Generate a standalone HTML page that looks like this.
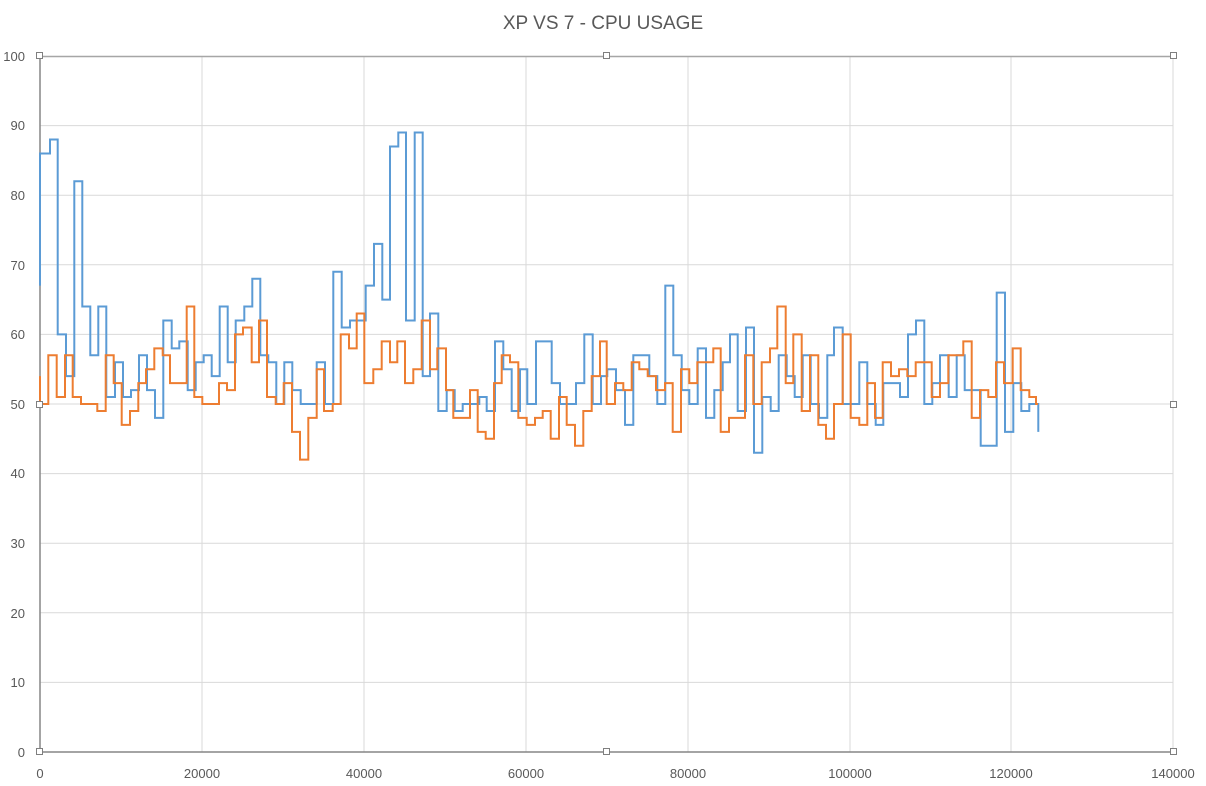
<!DOCTYPE html>
<html><head><meta charset="utf-8"><style>
body{margin:0;background:#fff;}
svg{display:block;font-family:"Liberation Sans",sans-serif;}
</style></head><body>
<svg width="1206" height="786" viewBox="0 0 1206 786" xmlns="http://www.w3.org/2000/svg">
<rect width="1206" height="786" fill="#fff"/>
<text x="603" y="29" text-anchor="middle" font-size="19" fill="#595959">XP VS 7 - CPU USAGE</text>
<g stroke="#d9d9d9" stroke-width="1">
<line x1="40" x2="1173" y1="125.6" y2="125.6"/><line x1="40" x2="1173" y1="195.2" y2="195.2"/>
<line x1="40" x2="1173" y1="264.8" y2="264.8"/><line x1="40" x2="1173" y1="334.4" y2="334.4"/>
<line x1="40" x2="1173" y1="404" y2="404"/><line x1="40" x2="1173" y1="473.6" y2="473.6"/>
<line x1="40" x2="1173" y1="543.2" y2="543.2"/><line x1="40" x2="1173" y1="612.8" y2="612.8"/>
<line x1="40" x2="1173" y1="682.4" y2="682.4"/>
<line x1="202" x2="202" y1="56" y2="752"/><line x1="364" x2="364" y1="56" y2="752"/>
<line x1="526" x2="526" y1="56" y2="752"/><line x1="688" x2="688" y1="56" y2="752"/>
<line x1="850" x2="850" y1="56" y2="752"/><line x1="1011" x2="1011" y1="56" y2="752"/>
<line x1="1173" x2="1173" y1="56" y2="752"/>
</g>
<line x1="40" x2="1173" y1="56.5" y2="56.5" stroke="#a6a6a6" stroke-width="1.5"/>
<line x1="40" x2="1173" y1="752" y2="752" stroke="#868686" stroke-width="1.5"/>
<line x1="40" x2="40" y1="56" y2="752" stroke="#868686" stroke-width="1.5"/>
<g font-size="13" fill="#595959" text-anchor="end">
<text x="25" y="61">100</text><text x="25" y="130">90</text><text x="25" y="200">80</text>
<text x="25" y="270">70</text><text x="25" y="339">60</text><text x="25" y="409">50</text>
<text x="25" y="478">40</text><text x="25" y="548">30</text><text x="25" y="618">20</text>
<text x="25" y="687">10</text><text x="25" y="757">0</text>
</g>
<g font-size="13" fill="#595959" text-anchor="middle">
<text x="40" y="778">0</text><text x="202" y="778">20000</text><text x="364" y="778">40000</text>
<text x="526" y="778">60000</text><text x="688" y="778">80000</text><text x="850" y="778">100000</text>
<text x="1011" y="778">120000</text><text x="1173" y="778">140000</text>
</g>
<g transform="translate(0,752) scale(1,-6.96)" fill="none" stroke-width="2" stroke-linejoin="miter">
<path vector-effect="non-scaling-stroke" stroke="#5b9bd5" d="M40,67 V86 H50 V88 H57.7 V60 H66 V54 H74.3 V82 H82.3 V64 H90.3 V57 H98.3 V64 H106.3 V51 H115 V56 H123 V51 H131 V52 H139 V57 H147 V52 H155 V48 H163.3 V62 H171.7 V58 H179.3 V59 H187.7 V52 H195.7 V56 H203.7 V57 H211.7 V54 H219.7 V64 H227.7 V56 H235.7 V62 H244.3 V64 H252.3 V68 H260.3 V57 H268.3 V56 H276.3 V50 H284.3 V56 H292.3 V52 H300.7 V50 H316.7 V56 H325 V50 H333.3 V69 H341.7 V61 H350 V62 H365.7 V67 H374 V73 H382.3 V65 H390 V87 H398.3 V89 H406 V62 H414.7 V89 H422.7 V54 H430 V63 H438.3 V49 H446.7 V52 H454.7 V49 H462.7 V50 H479.3 V51 H486.7 V49 H495 V59 H503.3 V55 H511.7 V49 H520 V55 H527.3 V50 H536 V59 H551.7 V53 H560 V50 H576 V53 H584.3 V60 H592.7 V50 H601 V54 H607.3 V55 H616 V52 H625 V47 H633.3 V57 H649.3 V54 H657.3 V50 H665.3 V67 H673.3 V57 H681.7 V52 H689.3 V50 H697.7 V58 H706 V48 H714.3 V52 H722.7 V56 H730 V60 H737.7 V49 H746 V61 H754 V43 H762.3 V51 H770.7 V49 H778.7 V57 H786.7 V54 H794.7 V51 H802.7 V57 H810.7 V50 H819 V48 H827.3 V57 H834 V61 H842.7 V50 H859.3 V56 H867.3 V50 H875.7 V47 H883.3 V53 H900 V51 H908 V60 H916 V62 H924.3 V50 H932.3 V53 H940 V57 H948.7 V51 H956.7 V57 H964.7 V52 H980.7 V44 H996.7 V66 H1005 V46 H1013.3 V53 H1021.3 V49 H1029.3 V50 H1038.3 V46"/>
<path vector-effect="non-scaling-stroke" stroke="#ed7d31" d="M40,54 V50 H48.3 V57 H56.7 V51 H65 V57 H72.7 V51 H81 V50 H97.3 V49 H105.7 V57 H113.7 V53 H121.7 V47 H130 V49 H138.3 V53 H146 V55 H154.3 V58 H162.7 V57 H170 V53 H186.7 V64 H194.3 V51 H202.3 V50 H219 V53 H227 V52 H235 V60 H243 V61 H251.7 V56 H259 V62 H267 V51 H275.7 V50 H283.7 V53 H292 V46 H300 V42 H308.3 V48 H316.7 V55 H324 V49 H332.7 V50 H340.7 V60 H349 V58 H356.7 V63 H364.3 V53 H373.3 V55 H381.7 V59 H390 V56 H397.3 V59 H405 V53 H413.3 V55 H421.7 V62 H430 V55 H437.3 V58 H446 V52 H453.3 V48 H470 V52 H477.7 V46 H485.7 V45 H494 V53 H501.7 V57 H510 V56 H518.3 V48 H526.7 V47 H535 V48 H542.7 V49 H550.7 V45 H559 V51 H566.7 V47 H575 V44 H583.3 V49 H591.7 V54 H600 V59 H606.7 V50 H615 V53 H623.3 V52 H631.7 V56 H639.3 V55 H647.7 V54 H656 V52 H665 V53 H672.7 V46 H681 V55 H689.3 V53 H697.3 V56 H713.3 V58 H720.7 V46 H729 V48 H745 V57 H753.3 V50 H761.7 V56 H770 V58 H777.3 V64 H785.7 V53 H793.3 V60 H801.7 V49 H810 V57 H818.3 V47 H826 V45 H834 V50 H842.7 V60 H850.7 V48 H859.3 V47 H867.3 V53 H875 V48 H882.7 V56 H891 V54 H899 V55 H907.3 V54 H915.7 V56 H931.7 V51 H940 V53 H948.3 V57 H963.3 V59 H971.7 V48 H980 V52 H988.3 V51 H996 V56 H1004 V53 H1012.7 V58 H1020.7 V52 H1029.3 V51 H1036 V50 H1038"/>
</g>
<g fill="#fff" stroke="#7f7f7f" stroke-width="1">
<rect x="36.5" y="52.5" width="6" height="6"/><rect x="603.5" y="52.5" width="6" height="6"/><rect x="1170.5" y="52.5" width="6" height="6"/>
<rect x="36.5" y="401.5" width="6" height="6"/><rect x="1170.5" y="401.5" width="6" height="6"/>
<rect x="36.5" y="748.5" width="6" height="6"/><rect x="603.5" y="748.5" width="6" height="6"/><rect x="1170.5" y="748.5" width="6" height="6"/>
</g>
</svg>
</body></html>
